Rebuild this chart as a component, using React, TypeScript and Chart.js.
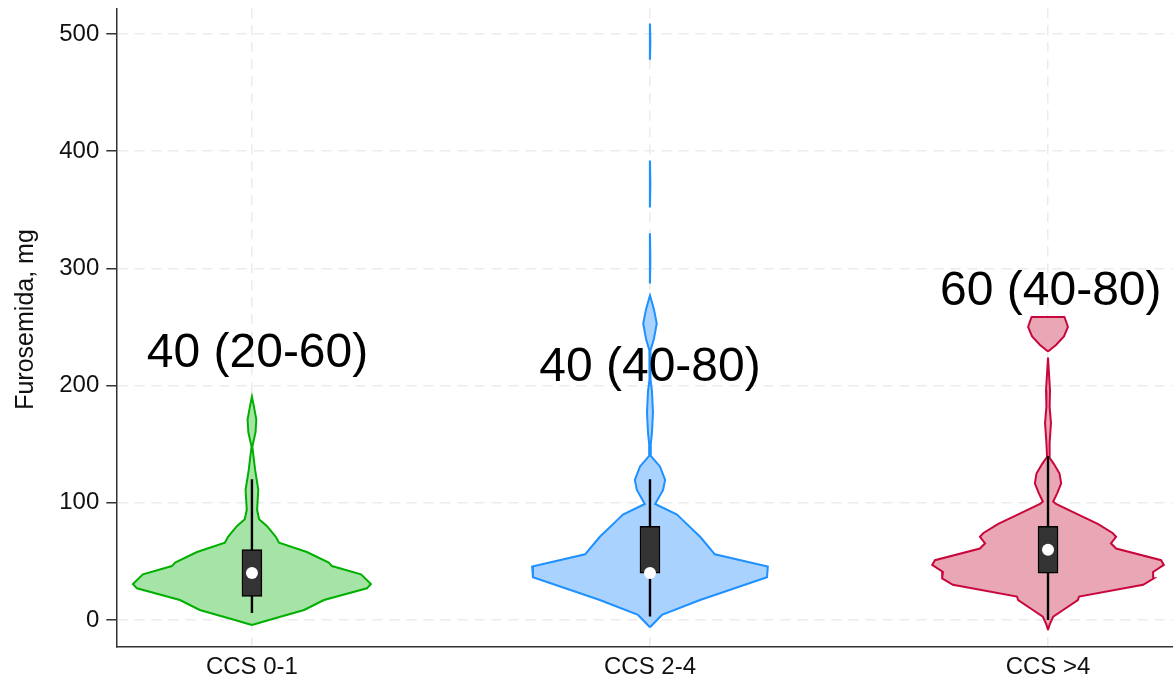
import React, { useEffect, useRef } from 'react';
import { Chart, registerables } from 'chart.js';

Chart.register(...registerables);

// ---------- data ----------
const categories = ['CCS 0-1', 'CCS 2-4', 'CCS >4'];
const yTicks = [0, 100, 200, 300, 400, 500];
const yAxisTitle = 'Furosemida, mg';

// violin outlines: dose levels (mg) and half-widths of the density (in category units)
const greenLevels = [-4.3, 0, 8.5, 17, 27, 30.7, 39, 46, 49, 58, 66, 71, 80, 86, 94, 111, 128, 148, 160, 171, 182, 190.5];
const greenHalfWidths = [0, 0.043, 0.131, 0.181, 0.289, 0.299, 0.274, 0.201, 0.193, 0.138, 0.068, 0.06, 0.038, 0.018, 0.013, 0.016, 0.008, 0.001, 0.009, 0.011, 0.005, 0];

const blueLevels = [-6.2, 4.3, 17, 36.4, 45.5, 56, 71, 85, 90, 99, 111, 119.5, 131, 140, 150, 160, 177, 195, 205, 218, 230, 240, 253, 265, 277, 287, 308, 330, 352, 372, 392, 478, 493, 509];
const blueHalfWidths = [0, 0.03, 0.126, 0.294, 0.296, 0.163, 0.126, 0.083, 0.068, 0.013, 0.033, 0.038, 0.025, 0.002, 0.002, 0.005, 0.0075, 0.005, 0.0015, 0.001, 0.0015, 0.01, 0.017, 0.01, 0, 0, 0.001, 0, 0, 0.001, 0, 0, 0.001, 0];

const redLevels = [-8.5, -4, 2.8, 8.5, 17, 20, 30, 35.5, 41, 47, 51, 61, 65.4, 71, 74, 82, 88, 99, 101, 108, 116.6, 125, 133, 139, 151, 168, 182, 196, 210, 224, 229, 234.6, 242, 250, 257, 258.5];
const redHalfWidths = [0, 0.004, 0.013, 0.038, 0.075, 0.078, 0.239, 0.266, 0.264, 0.291, 0.284, 0.171, 0.158, 0.171, 0.163, 0.125, 0.088, 0.02, 0.013, 0.023, 0.033, 0.029, 0.015, 0.0025, 0.004, 0.0075, 0.004, 0.005, 0.0025, 0, 0, 0.02, 0.04, 0.05, 0.043, 0.041];

// box plot summaries
const boxLow = [20, 40, 40];
const boxHigh = [60, 80, 80];
const medians = [40, 40, 60];
const whiskerLow = [6, 3, 0];
const whiskerHigh = [120, 120, 140];

// summary text labels
const summaryLabels = ['40 (20-60)', '40 (40-80)', '60 (40-80)'];
const summaryLabelY = [216, 204, 269];
const summaryLabelShift = [0.014, 0, 0.007];

// ---------- styles ----------
const FONT = '"Liberation Sans", Arial, Helvetica, sans-serif';
const violinStyles = [
  { fill: '#a6e3a6', stroke: '#00b000' },
  { fill: '#aad2ff', stroke: '#1e90ff' },
  { fill: '#e9a7b6', stroke: '#c8073c' },
];
const gridColor = '#ebebeb';
const axisColor = '#333333';

function violinPieces(center: number, levels: number[], widths: number[]) {
  const pieces: number[][] = [];
  let cur: number[] = [];
  const hasWidth = (idx: number[]) => idx.some((i) => widths[i] > 0);
  for (let i = 0; i < levels.length; i++) {
    cur.push(i);
    if (widths[i] === 0 && cur.length > 1) {
      if (hasWidth(cur)) pieces.push(cur);
      cur = [i];
    }
  }
  if (cur.length > 1 && hasWidth(cur)) pieces.push(cur);
  return pieces.map((idx) => {
    const right = idx.map((i) => ({ x: center + widths[i], y: levels[i] }));
    const left = idx
      .slice()
      .reverse()
      .map((i) => ({ x: center - widths[i], y: levels[i] }));
    return [...right, ...left, right[0]];
  });
}

const annotationPlugin = {
  id: 'summaryText',
  afterDatasetsDraw(chart: any) {
    const { ctx, scales, chartArea } = chart;
    ctx.save();
    ctx.font = `48px ${FONT}`;
    ctx.fillStyle = '#000';
    ctx.textAlign = 'center';
    ctx.textBaseline = 'alphabetic';
    summaryLabels.forEach((t, i) => {
      const px = scales.x.getPixelForValue(i + summaryLabelShift[i]);
      const py = scales.y.getPixelForValue(summaryLabelY[i]);
      ctx.fillText(t, px, py);
    });
    ctx.restore();

    // y-axis title
    ctx.save();
    ctx.font = `25px ${FONT}`;
    ctx.fillStyle = '#111';
    ctx.textAlign = 'center';
    ctx.textBaseline = 'middle';
    ctx.translate(26, (chartArea.top + chartArea.bottom) / 2 - 8);
    ctx.rotate(-Math.PI / 2);
    ctx.fillText(yAxisTitle, 0, 0);
    ctx.restore();
  },
};

export default function App() {
  const canvasRef = useRef<HTMLCanvasElement | null>(null);

  useEffect(() => {
    if (!canvasRef.current) return;
    const groups = [
      [greenLevels, greenHalfWidths],
      [blueLevels, blueHalfWidths],
      [redLevels, redHalfWidths],
    ];
    const datasets: any[] = [];
    groups.forEach(([lv, hw], gi) => {
      violinPieces(gi, lv, hw).forEach((pts) => {
        datasets.push({
          type: 'line',
          data: pts,
          borderColor: violinStyles[gi].stroke,
          backgroundColor: violinStyles[gi].fill,
          borderWidth: 2,
          fill: 'shape',
          tension: 0,
          pointRadius: 0,
          pointHitRadius: 0,
          order: 4,
        });
      });
    });
    categories.forEach((_, i) => {
      datasets.push({
        type: 'line',
        data: [
          { x: i, y: whiskerLow[i] },
          { x: i, y: whiskerHigh[i] },
        ],
        borderColor: '#000',
        borderWidth: 2.4,
        pointRadius: 0,
        fill: false,
        order: 3,
      });
    });
    datasets.push({
      type: 'bar',
      data: categories.map((_, i) => ({ x: i, y: [boxLow[i], boxHigh[i]] })),
      backgroundColor: '#333333',
      borderColor: '#000',
      borderWidth: 1.5,
      borderSkipped: false,
      barThickness: 20,
      order: 2,
    });
    datasets.push({
      type: 'line',
      data: categories.map((_, i) => ({ x: i, y: medians[i] })),
      showLine: false,
      pointRadius: 6,
      pointBackgroundColor: '#ffffff',
      pointBorderWidth: 0,
      pointBorderColor: '#ffffff',
      order: 1,
    });

    const chart = new Chart(canvasRef.current, {
      type: 'line',
      data: { datasets },
      options: {
        animation: false,
        responsive: true,
        maintainAspectRatio: false,
        events: [],
        layout: { autoPadding: false, padding: { top: 8.3, right: 0, left: 0, bottom: 0 } },
        plugins: {
          legend: { display: false },
          tooltip: { enabled: false },
          filler: { drawTime: 'beforeDatasetDraw' },
        } as any,
        scales: {
          x: {
            type: 'linear',
            min: -0.339,
            max: 2.314,
            offset: false,
            afterBuildTicks: (s: any) => {
              s.ticks = categories.map((_, i) => ({ value: i }));
            },
            afterFit: (s: any) => {
              s.height = 33.3;
              s.paddingLeft = 0;
              s.paddingRight = 0;
            },
            ticks: {
              callback: (v: any) => categories[v] ?? '',
              font: { family: FONT, size: 24 },
              color: '#111',
              padding: 6,
              autoSkip: false,
              maxRotation: 0,
              includeBounds: false,
            },
            grid: { color: gridColor, lineWidth: 1.5, drawTicks: false, offset: false },
            border: { display: true, color: axisColor, width: 1.5, dash: [10, 7] },
          },
          y: {
            type: 'linear',
            min: -22.8,
            max: 521.9,
            afterBuildTicks: (s: any) => {
              s.ticks = yTicks.map((v) => ({ value: v }));
            },
            afterFit: (s: any) => {
              s.width = 117;
              s.paddingTop = 0;
              s.paddingBottom = 0;
            },
            ticks: {
              font: { family: FONT, size: 24 },
              color: '#111',
              padding: 7,
              includeBounds: false,
            },
            grid: {
              color: gridColor,
              lineWidth: 1.5,
              tickLength: 10.7,
              tickColor: axisColor,
              tickWidth: 1.5,
              tickBorderDash: [1, 0],
            },
            border: { display: true, color: axisColor, width: 1.5, dash: [10, 7] },
          },
        } as any,
      },
      plugins: [annotationPlugin],
    } as any);
    return () => chart.destroy();
  }, []);

  return (
    <div style={{ position: 'absolute', left: 0, top: 0, width: 1173, height: 680, background: '#fff' }}>
      <canvas ref={canvasRef} />
    </div>
  );
}
